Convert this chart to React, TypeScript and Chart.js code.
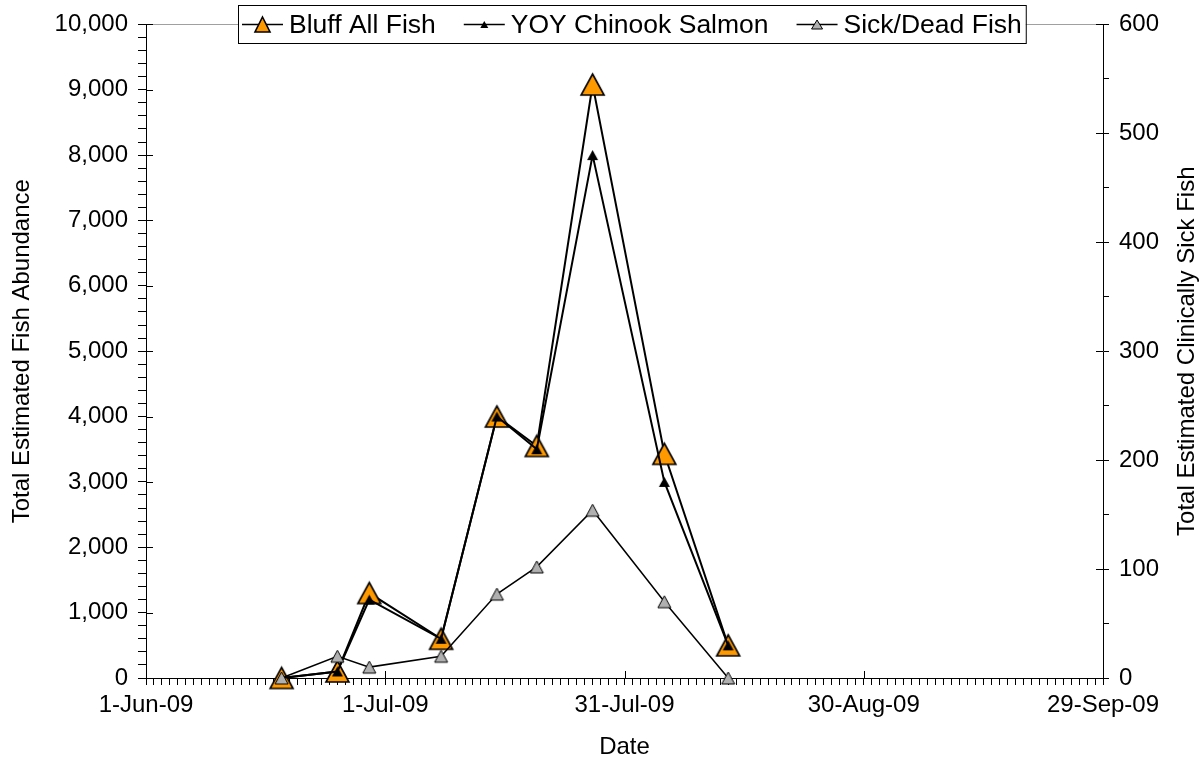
import React, { useEffect, useRef } from 'react';
import { Chart, registerables } from 'chart.js';

Chart.register(...registerables);

// ---- Data ----
const sampleDays = [17, 24, 28, 37, 44, 49, 56, 65, 73]; // days after 1-Jun-09
const bluffAllFish = [0, 100, 1300, 600, 4000, 3550, 9080, 3430, 500];
const yoyChinook = [0, 100, 1200, 600, 4000, 3500, 8000, 3000, 500];
const sickDeadFish = [0, 20, 10, 20, 77, 102, 154, 70, 0];

const majorDays = [0, 30, 60, 90, 120];
const dateLabels = ['1-Jun-09', '1-Jul-09', '31-Jul-09', '30-Aug-09', '29-Sep-09'];

const seriesNames = ['Bluff All Fish', 'YOY Chinook Salmon', 'Sick/Dead Fish'];
const leftTitle = 'Total Estimated Fish Abundance';
const rightTitle = 'Total Estimated Clinically Sick Fish';
const xTitle = 'Date';

const FONT = '"Liberation Sans", Arial, Helvetica, sans-serif';
const ORANGE = '#FF9900';
const GRAY = '#B0B0B0';

function toPoints(vals: number[]) {
  return sampleDays.map((d, i) => ({ x: d, y: vals[i] }));
}

// triangle centred on its bounding box (like spreadsheet markers)
function triPath(ctx: CanvasRenderingContext2D, cx: number, cy: number, w: number, h: number) {
  ctx.beginPath();
  ctx.moveTo(cx, cy - h / 2);
  ctx.lineTo(cx + w / 2, cy + h / 2);
  ctx.lineTo(cx - w / 2, cy + h / 2);
  ctx.closePath();
}

function drawTri(ctx: CanvasRenderingContext2D, cx: number, cy: number, w: number, h: number, fill: string, lw: number) {
  triPath(ctx, cx, cy, w, h);
  ctx.fillStyle = fill;
  ctx.fill();
  if (lw > 0) {
    ctx.lineWidth = lw;
    ctx.lineJoin = 'miter';
    ctx.strokeStyle = '#000';
    ctx.stroke();
  }
}

function makeMarker(w: number, h: number, fill: string, lw: number): HTMLCanvasElement {
  const pad = 3;
  const c = document.createElement('canvas');
  c.width = w + pad * 2;
  c.height = h + pad * 2;
  const ctx = c.getContext('2d') as CanvasRenderingContext2D;
  drawTri(ctx, c.width / 2, c.height / 2, w, h, fill, lw);
  return c;
}

const markerW = [23, 11, 13];
const markerH = [21, 10, 12];
const markerFill = [ORANGE, '#000', GRAY];
const markerLw = [1.6, 0, 1];

const decorPlugin = {
  id: 'decor',
  beforeDatasetsDraw(chart: any) {
    const { ctx, chartArea } = chart;
    const xs = chart.scales.x;
    const ys = chart.scales.y;
    const y1s = chart.scales.y1;
    ctx.save();
    ctx.strokeStyle = '#A0A0A0';
    ctx.lineWidth = 1;
    ctx.beginPath();
    ctx.moveTo(chartArea.left, Math.round(chartArea.top) + 0.5);
    ctx.lineTo(chartArea.right, Math.round(chartArea.top) + 0.5);
    ctx.stroke();
    ctx.strokeStyle = '#000';
    ctx.beginPath();
    majorDays.forEach((d) => {
      const px = Math.round(xs.getPixelForValue(d)) + 0.5;
      ctx.moveTo(px, chartArea.bottom);
      ctx.lineTo(px, chartArea.bottom - 7);
    });
    for (let v = 0; v <= 10000; v += 1000) {
      const py = Math.round(ys.getPixelForValue(v)) + 0.5;
      ctx.moveTo(chartArea.left, py);
      ctx.lineTo(chartArea.left + 7, py);
    }
    for (let v = 0; v <= 600; v += 100) {
      const py = Math.round(y1s.getPixelForValue(v)) + 0.5;
      ctx.moveTo(chartArea.right, py);
      ctx.lineTo(chartArea.right - 7, py);
    }
    ctx.stroke();
    ctx.restore();
  },
  afterDraw(chart: any) {
    const { ctx, chartArea } = chart;
    ctx.save();
    ctx.font = `24px ${FONT}`;
    ctx.fillStyle = '#000';
    ctx.textAlign = 'center';
    ctx.textBaseline = 'middle';
    ctx.translate(1187, (chartArea.top + chartArea.bottom) / 2);
    ctx.rotate(-Math.PI / 2);
    ctx.fillText(rightTitle, 0, 0);
    ctx.restore();

    // legend
    ctx.save();
    const fontSize = 26.5;
    ctx.font = `${fontSize}px ${FONT}`;
    const sampleW = 41;
    const sampleGap = 6;
    const itemGap = 28;
    const padX = 4;
    const widths = seriesNames.map((n) => ctx.measureText(n).width);
    const total = widths.reduce((a, b) => a + b, 0) + seriesNames.length * (sampleW + sampleGap) + itemGap * (seriesNames.length - 1) + padX * 2;
    const boxTop = 5;
    const boxH = 38;
    const boxLeft = Math.round((238 + 1025) / 2 - total / 2);
    ctx.fillStyle = '#fff';
    ctx.fillRect(boxLeft, boxTop, total, boxH);
    ctx.strokeStyle = '#000';
    ctx.lineWidth = 1;
    ctx.strokeRect(boxLeft + 0.5, boxTop + 0.5, total, boxH);
    const cy = boxTop + boxH / 2 + 0.5;
    let x = boxLeft + padX;
    const lw = [15, 8, 11];
    const lh = [15, 7, 9];
    seriesNames.forEach((n, i) => {
      ctx.strokeStyle = '#000';
      ctx.lineWidth = 1.5;
      ctx.beginPath();
      ctx.moveTo(x, cy);
      ctx.lineTo(x + sampleW, cy);
      ctx.stroke();
      drawTri(ctx, x + sampleW / 2, cy, lw[i], lh[i], markerFill[i], markerLw[i]);
      ctx.fillStyle = '#000';
      ctx.textAlign = 'left';
      ctx.textBaseline = 'middle';
      ctx.fillText(n, x + sampleW + sampleGap, cy + 1);
      x += sampleW + sampleGap + widths[i] + itemGap;
    });
    ctx.restore();
  },
};

export default function App() {
  const canvasRef = useRef<HTMLCanvasElement | null>(null);

  useEffect(() => {
    const canvas = canvasRef.current;
    if (!canvas) return;
    Chart.defaults.font.family = FONT;
    Chart.defaults.color = '#000';

    const markers = markerW.map((w, i) => makeMarker(w, markerH[i], markerFill[i], markerLw[i]));

    const chart = new Chart(canvas, {
      type: 'line',
      data: {
        datasets: [
          {
            label: seriesNames[0],
            data: toPoints(bluffAllFish),
            yAxisID: 'y',
            borderColor: '#000',
            borderWidth: 2,
            backgroundColor: ORANGE,
            pointStyle: markers[0],
            pointRadius: 10,
            tension: 0,
            fill: false,
            clip: false,
            order: 3,
          },
          {
            label: seriesNames[1],
            data: toPoints(yoyChinook),
            yAxisID: 'y',
            borderColor: '#000',
            borderWidth: 2,
            backgroundColor: '#000',
            pointStyle: markers[1],
            pointRadius: 5,
            tension: 0,
            fill: false,
            clip: false,
            order: 2,
          },
          {
            label: seriesNames[2],
            data: toPoints(sickDeadFish),
            yAxisID: 'y1',
            borderColor: '#000',
            borderWidth: 1.5,
            backgroundColor: GRAY,
            pointStyle: markers[2],
            pointRadius: 6,
            tension: 0,
            fill: false,
            clip: false,
            order: 1,
          },
        ],
      },
      options: {
        responsive: false,
        animation: false,
        devicePixelRatio: 1,
        layout: { padding: { top: 24, left: 0, right: 0, bottom: 0 } },
        plugins: {
          legend: { display: false },
          tooltip: { enabled: false },
        },
        scales: {
          x: {
            type: 'linear',
            min: 0,
            max: 120,
            afterFit: (s: any) => {
              s.height = 92;
            },
            ticks: {
              stepSize: 1,
              autoSkip: false,
              maxRotation: 0,
              minRotation: 0,
              padding: 6,
              font: { size: 24 },
              color: '#000',
              callback: (v: any) => {
                const i = majorDays.indexOf(Number(v));
                return i >= 0 ? dateLabels[i] : '';
              },
            },
            grid: { drawOnChartArea: false, drawTicks: true, tickLength: 7, tickColor: '#000', color: '#000' },
            border: { display: true, color: '#000', width: 1 },
            title: { display: true, text: xTitle, font: { size: 24 }, color: '#000', padding: { top: 0, bottom: 8 } },
          },
          y: {
            type: 'linear',
            position: 'left',
            min: 0,
            max: 10000,
            afterFit: (s: any) => {
              s.width = 146;
            },
            ticks: {
              stepSize: 200,
              autoSkip: false,
              padding: 10,
              font: { size: 24 },
              color: '#000',
              callback: (v: any) => (Number(v) % 1000 === 0 ? Number(v).toLocaleString('en-US') : ''),
            },
            grid: { drawOnChartArea: false, drawTicks: true, tickLength: 8, tickColor: '#000', color: '#000' },
            border: { display: true, color: '#000', width: 1 },
            title: { display: true, text: leftTitle, font: { size: 24 }, color: '#000', padding: { top: 8, bottom: 0 } },
          },
          y1: {
            type: 'linear',
            position: 'right',
            min: 0,
            max: 600,
            afterFit: (s: any) => {
              s.width = 99;
            },
            ticks: {
              stepSize: 50,
              autoSkip: false,
              padding: 10,
              font: { size: 24 },
              color: '#000',
              callback: (v: any) => (Number(v) % 100 === 0 ? String(v) : ''),
            },
            grid: { drawOnChartArea: false, drawTicks: true, tickLength: 6, tickColor: '#000', color: '#000' },
            border: { display: true, color: '#000', width: 1 },
          },
        },
      },
      plugins: [decorPlugin],
    } as any);

    return () => {
      chart.destroy();
    };
  }, []);

  return (
    <div style={{ position: 'absolute', left: 0, top: 0, width: 1202, height: 770, background: '#fff' }}>
      <canvas ref={canvasRef} width={1202} height={770} style={{ display: 'block', width: 1202, height: 770 }} />
    </div>
  );
}
